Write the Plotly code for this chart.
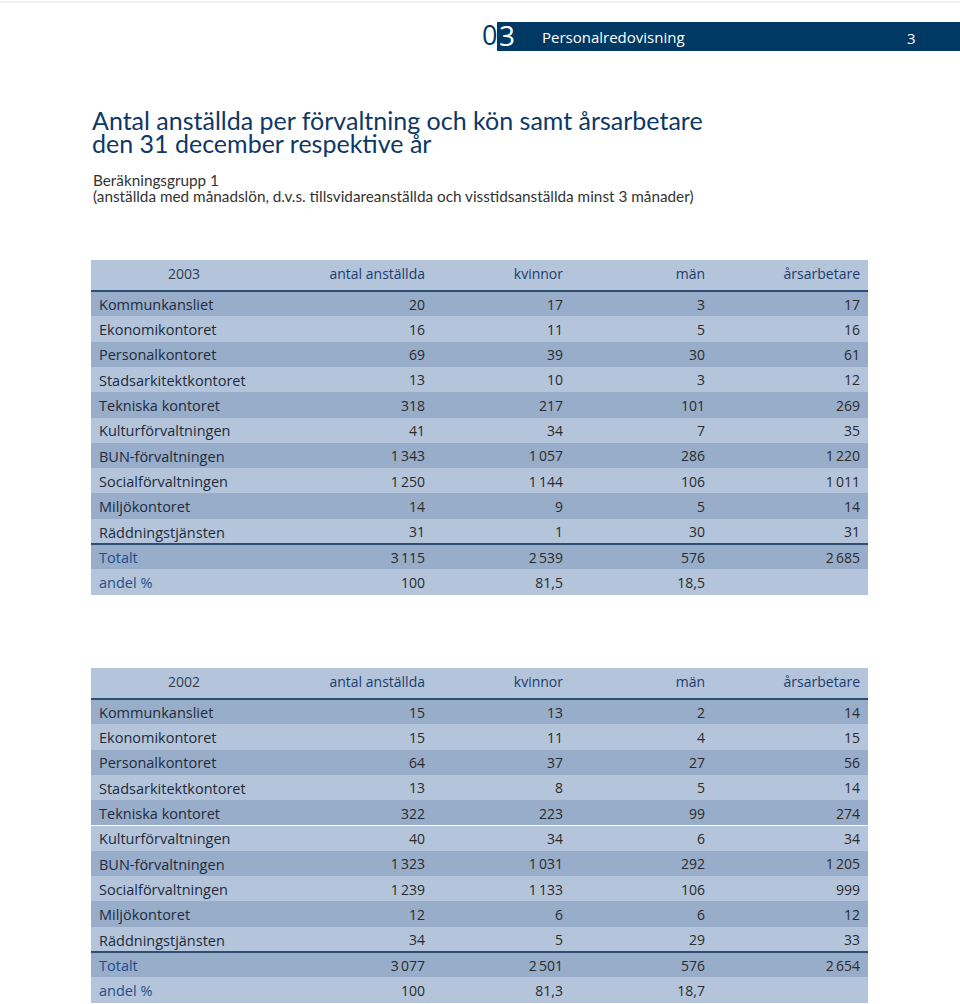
import plotly.graph_objects as go

W, H = 960, 1004

# ---------------- data ----------------
columns = ["antal anställda", "kvinnor", "män", "årsarbetare"]
departments = ["Kommunkansliet", "Ekonomikontoret", "Personalkontoret",
               "Stadsarkitektkontoret", "Tekniska kontoret", "Kulturförvaltningen",
               "BUN-förvaltningen", "Socialförvaltningen", "Miljökontoret",
               "Räddningstjänsten"]
summary_labels = ["Totalt", "andel %"]

antal_2003 = [20, 16, 69, 13, 318, 41, 1343, 1250, 14, 31]
kvinnor_2003 = [17, 11, 39, 10, 217, 34, 1057, 1144, 9, 1]
man_2003 = [3, 5, 30, 3, 101, 7, 286, 106, 5, 30]
arsarb_2003 = [17, 16, 61, 12, 269, 35, 1220, 1011, 14, 31]
totalt_2003 = [3115, 2539, 576, 2685]
andel_2003 = [100, 81.5, 18.5, None]

antal_2002 = [15, 15, 64, 13, 322, 40, 1323, 1239, 12, 34]
kvinnor_2002 = [13, 11, 37, 8, 223, 34, 1031, 1133, 6, 5]
man_2002 = [2, 4, 27, 5, 99, 6, 292, 106, 6, 29]
arsarb_2002 = [14, 15, 56, 14, 274, 34, 1205, 999, 12, 33]
totalt_2002 = [3077, 2501, 576, 2654]
andel_2002 = [100, 81.3, 18.7, None]

# ---------------- style ----------------
FONT = "Open Sans"
NAVY = "#003963"
TITLE_C = "#0e3866"
SUB_C = "#333333"
HEAD_FILL = "#b3c4db"
DARK_FILL = "#98adc9"
LIGHT_FILL = "#b3c4db"
SEP_C = "#2d4d73"
LABEL_C = "#1e2b3c"
TOTAL_C = "#1f4e8c"
NUM_C = "#2b2b2b"
HEAD_C = "#1c3d6b"
YEAR_C = "#2f3e55"

X0, X1 = 91, 868
COLW = [186, 156, 138, 142, 155]
HEADER_H = 31
ROW_H = 25.3


def px(x):
    return x / W


def py(y):
    return 1 - y / H


def fmt_int(v):
    return f"{v:,}".replace(",", "\u2009")


def fmt_pct(v):
    if v is None:
        return ""
    if float(v).is_integer():
        return str(int(v))
    return f"{v:.1f}".replace(".", ",")


def make_table(year, series, totals, andel, top):
    labels = departments + summary_labels
    n = len(labels)
    colvals = []
    for i, s in enumerate(series):
        colvals.append([fmt_int(v) for v in s] + [fmt_int(totals[i]), fmt_pct(andel[i])])
    fills = [DARK_FILL if r % 2 == 0 else LIGHT_FILL for r in range(n)]
    label_colors = [LABEL_C] * len(departments) + [TOTAL_C] * len(summary_labels)
    bottom = top + HEADER_H + ROW_H * n + 1
    return go.Table(
        domain=dict(x=[px(X0), px(X1)], y=[max(0, py(bottom)), py(top)]),
        columnwidth=COLW,
        header=dict(
            values=[year] + columns,
            fill_color=HEAD_FILL,
            line=dict(width=0, color=HEAD_FILL),
            align=["center", "right", "right", "right", "right"],
            font=dict(family=FONT, size=14, color=[YEAR_C] + [HEAD_C] * 4),
            height=HEADER_H,
        ),
        cells=dict(
            values=[labels] + colvals,
            fill_color=[fills] * 5,
            line=dict(width=0, color=LIGHT_FILL),
            align=["left", "right", "right", "right", "right"],
            font=dict(family=FONT, size=[14.5, 14, 14, 14, 14],
                      color=[label_colors] + [[NUM_C] * n] * 4),
            height=ROW_H,
        ),
    ), top


fig = go.Figure()
shapes = []
for year, series, totals, andel, top in [
    ("2003", [antal_2003, kvinnor_2003, man_2003, arsarb_2003], totalt_2003, andel_2003, 260),
    ("2002", [antal_2002, kvinnor_2002, man_2002, arsarb_2002], totalt_2002, andel_2002, 668),
]:
    tbl, t = make_table(year, series, totals, andel, top)
    fig.add_trace(tbl)
    # separators below header and above "Totalt"
    for yy in [t + HEADER_H, t + HEADER_H + ROW_H * len(departments)]:
        shapes.append(dict(type="line", xref="paper", yref="paper",
                           x0=px(X0), x1=px(X1), y0=py(yy), y1=py(yy),
                           line=dict(color=SEP_C, width=2)))

# top thin rule and header band
shapes.append(dict(type="line", xref="paper", yref="paper", x0=0, x1=1,
                   y0=py(2), y1=py(2), line=dict(color="#e4e4e4", width=1)))
shapes.append(dict(type="rect", xref="paper", yref="paper", x0=px(497), x1=1,
                   y0=py(51), y1=py(22), fillcolor=NAVY, line=dict(width=0), layer="below"))

annotations = [
    dict(text="0", x=px(490), y=py(35), xanchor="center", yanchor="middle",
         font=dict(family=FONT, size=27, color=NAVY)),
    dict(text="3", x=px(507), y=py(35), xanchor="center", yanchor="middle",
         font=dict(family=FONT, size=28, color="#ffffff")),
    dict(text="Personalredovisning", x=px(540), y=py(37), xanchor="left", yanchor="middle",
         font=dict(family=FONT, size=15, color="#ffffff")),
    dict(text="3", x=px(911), y=py(38), xanchor="center", yanchor="middle",
         font=dict(family=FONT, size=15, color="#ffffff")),
    dict(text="Antal anställda per förvaltning och kön samt årsarbetare",
         x=px(90), y=py(120), xanchor="left", yanchor="middle",
         font=dict(family="Lato", size=25, color=TITLE_C)),
    dict(text="den 31 december respektive år",
         x=px(90), y=py(143), xanchor="left", yanchor="middle",
         font=dict(family="Lato", size=25, color=TITLE_C)),
    dict(text="Beräkningsgrupp 1",
         x=px(91), y=py(180), xanchor="left", yanchor="middle",
         font=dict(family="Lato", size=15.3, color=SUB_C)),
    dict(text="(anställda med månadslön, d.v.s. tillsvidareanställda och visstidsanställda minst 3 månader)",
         x=px(91), y=py(196), xanchor="left", yanchor="middle",
         font=dict(family="Lato", size=15.3, color=SUB_C)),
]
for a in annotations:
    a.update(xref="paper", yref="paper", showarrow=False)

fig.update_layout(
    width=W, height=H,
    margin=dict(l=0, r=0, t=0, b=0),
    paper_bgcolor="white",
    plot_bgcolor="white",
    shapes=shapes,
    annotations=annotations,
    showlegend=False,
)

fig.write_html("out.html", config={"displayModeBar": False},
               post_script="document.body.style.margin='0px';")
